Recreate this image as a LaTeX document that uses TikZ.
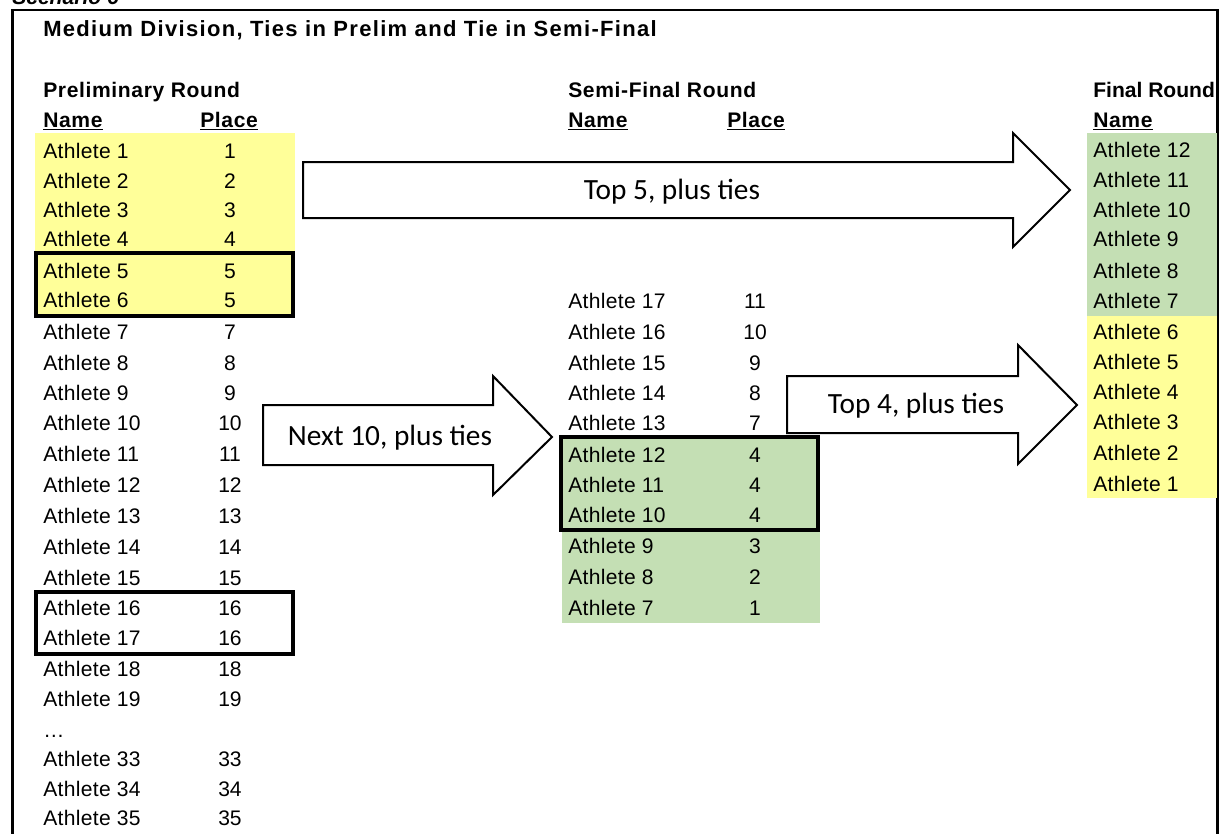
\documentclass[tikz,border=0pt]{standalone}
\usepackage{fontspec}
\setmainfont{Liberation Sans}
\newfontfamily\calib{Carlito}
\definecolor{yel}{RGB}{255,255,153}
\definecolor{grn}{RGB}{196,223,180}
\begin{document}
\begin{tikzpicture}[x=0.75pt,y=-0.75pt,
  cell/.style={anchor=base west,inner sep=0pt,font=\fontsize{15.8}{18}\selectfont\addfontfeature{LetterSpace=1.5}},
  num/.style={anchor=base,inner sep=0pt,font=\fontsize{15.8}{18}\selectfont},
  hdr/.style={anchor=base west,inner sep=0pt,font=\fontsize{15.8}{18}\selectfont\bfseries\addfontfeature{LetterSpace=3}},
  tiebox/.style={draw=black,line width=3pt},
  blockarrow/.style={draw=black,line width=1.5pt,fill=white,line join=miter},
  arrowtext/.style={anchor=base,inner sep=0pt,font=\calib\fontsize{22}{24}\selectfont},
  frame/.style={draw=black,line width=1.7pt}]
\useasboundingbox (0,0) rectangle (1220,833);
% frame and top caption
\node[anchor=base west,inner sep=0pt,font=\fontsize{15.8}{18}\selectfont\bfseries\itshape] (scen) at (12,4) {Scenario 6};
\draw[frame] (12.5,900) -- (12.5,10) -- (1217.5,10) -- (1217.5,900);
% fills
\fill[yel] (35,133) rectangle (295,316);
\fill[grn] (562,438) rectangle (820,623);
\fill[grn] (1087,133) rectangle (1217,316);
\fill[yel] (1087,316) rectangle (1217,498);
% title
\node[anchor=base west,inner sep=0pt,font=\fontsize{16.5}{19}\selectfont\bfseries\addfontfeature{LetterSpace=6}] (title) at (43,36) {Medium Division, Ties in Prelim and Tie in Semi-Final};
% preliminary round
\node[hdr] (prelimhdr) at (43,97) {Preliminary Round};
\node[hdr] (pname) at (43,127) {\underline{Name}};
\node[hdr] (pplace) at (200,127) {\underline{Place}};
\foreach \n/\p/\y in {1/1/158,2/2/188,3/3/217,4/4/246,5/5/278,6/5/307,7/7/339,8/8/370,9/9/400,10/10/430,11/11/461,12/12/492,13/13/523,14/14/554,15/15/585,16/16/615,17/16/645,18/18/676,19/19/706,33/33/766,34/34/796,35/35/825}{
  \node[cell] (pn\n) at (43,\y) {Athlete \n};
  \node[num] (pp\n) at (230,\y) {\p};
}
\node[cell] (pdots) at (43,737) {…};
% semi-final round
\node[hdr] (semihdr) at (568,97) {Semi-Final Round};
\node[hdr] (sname) at (568,127) {\underline{Name}};
\node[hdr] (splace) at (727,127) {\underline{Place}};
\foreach \n/\p/\y in {17/11/308,16/10/339,15/9/370,14/8/400,13/7/430,12/4/462,11/4/492,10/4/522,9/3/553,8/2/584,7/1/615}{
  \node[cell] (sn\n) at (568,\y) {Athlete \n};
  \node[num] (sp\n) at (755,\y) {\p};
}
% final round
\node[hdr,font=\fontsize{15.8}{18}\selectfont\bfseries] (finalhdr) at (1093,97) {Final Round};
\node[hdr] (fname) at (1093,127) {\underline{Name}};
\foreach \n/\y in {12/157,11/187,10/217,9/246,8/278,7/308,6/339,5/369,4/399,3/429,2/460,1/491}{
  \node[cell] (fn\n) at (1093,\y) {Athlete \n};
}
% tie boxes
\draw[tiebox] (36,253) rectangle (293,316);
\draw[tiebox] (36,592) rectangle (293,654);
\draw[tiebox] (561,437) rectangle (818,530);
% block arrows
\draw[blockarrow] (303,162) -- (1013,162) -- (1013,133) -- (1070,190) -- (1013,247) -- (1013,218) -- (303,218) -- cycle;
\node[arrowtext] (top5) at (672,199) {Top 5, plus ties};
\draw[blockarrow] (263,405) -- (493,405) -- (493,376) -- (552,437) -- (493,495) -- (493,465) -- (263,465) -- cycle;
\node[arrowtext] (next10) at (390,445) {Next 10, plus ties};
\draw[blockarrow] (787,376) -- (1018,376) -- (1018,345) -- (1077,405) -- (1018,464) -- (1018,433) -- (787,433) -- cycle;
\node[arrowtext] (top4) at (916,413) {Top 4, plus ties};
\end{tikzpicture}
\end{document}
